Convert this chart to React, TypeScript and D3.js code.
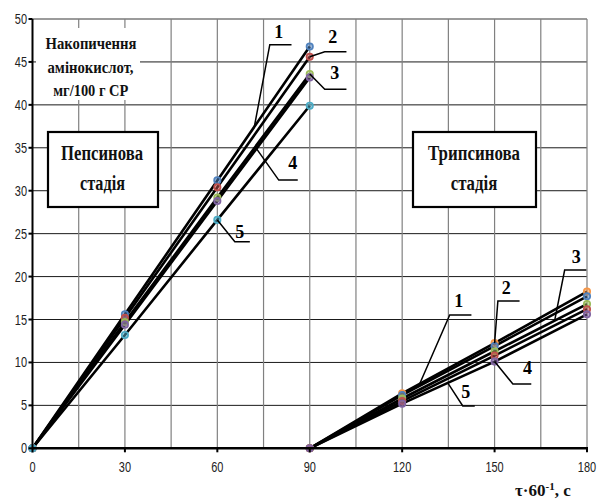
import React from "react";
import * as d3 from "d3";

// Sampling times, τ·60⁻¹ (s)
const pepsinTimes = [0, 30, 60, 90];
const trypsinTimes = [90, 120, 150, 180];

// Amino-acid accumulation, mg/100 g DM — pepsin stage (curves 1–5)
const pepsin1 = [0, 15.6, 31.2, 46.8];
const pepsin2 = [0, 15.2, 30.4, 45.6];
const pepsin3 = [0, 14.7, 29.2, 43.6];
const pepsin4 = [0, 14.4, 28.8, 43.2];
const pepsin5 = [0, 13.2, 26.6, 39.9];

// Trypsin stage (curves 1–5)
const trypsin1 = [0, 6.4, 12.25, 18.25];
const trypsin2 = [0, 6.2, 11.9, 17.7];
const trypsin3 = [0, 5.8, 11.3, 16.8];
const trypsin4 = [0, 5.5, 10.8, 16.2];
const trypsin5 = [0, 5.2, 10.1, 15.6];

const pepsinColors = ["#4F81BD", "#C0504D", "#9BBB59", "#8064A2", "#4BACC6"];
const trypsinColors = ["#F79646", "#4F81BD", "#9BBB59", "#C0504D", "#8064A2"];

const xTicks = [0, 30, 60, 90, 120, 150, 180];
const yTicks = [0, 5, 10, 15, 20, 25, 30, 35, 40, 45, 50];
const xGrid = [15, 30, 45, 60, 75, 90, 105, 120, 135, 150, 165, 180];

const W = 600;
const H = 500;
const x = d3.scaleLinear().domain([0, 180]).range([32.5, 587]);
const y = d3.scaleLinear().domain([0, 50]).range([448.3, 19]);

const serif = "'Liberation Serif', 'Times New Roman', serif";
const sans = "'Liberation Sans', Arial, sans-serif";

type Series = { times: number[]; values: number[]; color: string };

const series: Series[] = [
  ...[pepsin1, pepsin2, pepsin3, pepsin4, pepsin5].map((v, i) => ({
    times: pepsinTimes,
    values: v,
    color: pepsinColors[i],
  })),
  ...[trypsin1, trypsin2, trypsin3, trypsin4, trypsin5].map((v, i) => ({
    times: trypsinTimes,
    values: v,
    color: trypsinColors[i],
  })),
];

// value of a series at an arbitrary time (linear between samples)
function valueAt(s: Series, t: number) {
  return d3.scaleLinear().domain(s.times).range(s.values)(t);
}

// curve labels: anchored on a curve at time t, leader bent by pixel offsets
type Callout = {
  label: string;
  s: number;
  t: number;
  elbow: [number, number];
  end: number;
  text: [number, number];
};
const callouts: Callout[] = [
  { label: "1", s: 0, t: 72, elbow: [15.5, -82.2], end: 37.2, text: [24.5, -95.2] },
  { label: "2", s: 1, t: 90, elbow: [15, -5], end: 36.7, text: [23, -19.8] },
  { label: "3", s: 2, t: 90, elbow: [15, 15.3], end: 36.7, text: [25, -1.3] },
  { label: "4", s: 3, t: 72.7, elbow: [22.3, 31.4], end: 41.3, text: [36.3, 14.4] },
  { label: "5", s: 4, t: 60, elbow: [17.5, 21.8], end: 32.5, text: [22.5, 11.8] },
  { label: "1", s: 5, t: 125.7, elbow: [30, -68.8], end: 51.7, text: [39, -82.8] },
  { label: "2", s: 5, t: 150, elbow: [3.3, -42.1], end: 25, text: [11.7, -54.8] },
  { label: "3", s: 7, t: 169.5, elbow: [10, -50.5], end: 31.7, text: [21.7, -63.8] },
  { label: "4", s: 9, t: 150, elbow: [18.3, 22.4], end: 36.7, text: [33, 6.7] },
  { label: "5", s: 9, t: 134.8, elbow: [15, 23], end: 27, text: [18, 9] },
];

// condensed bold serif line of text
function Caption(props: { x: number; y: number; w: number; size: number; children: string }) {
  return (
    <text
      x={props.x - props.w / 2}
      y={props.y}
      textLength={props.w}
      lengthAdjust="spacingAndGlyphs"
      fontFamily={serif}
      fontWeight="bold"
      fontSize={props.size}
      fill="#111"
    >
      {props.children}
    </text>
  );
}

// narrow numeric tick label
function Tick(props: { x: number; y: number; anchor: "end" | "middle"; value: number }) {
  const s = String(props.value);
  const w = s.length * 6.1;
  const x0 = props.anchor === "end" ? props.x - w : props.x - w / 2;
  return (
    <text
      x={x0}
      y={props.y}
      textLength={w}
      lengthAdjust="spacingAndGlyphs"
      fontFamily={sans}
      fontSize={14}
      fill="#222"
    >
      {s}
    </text>
  );
}

export default function App() {
  const line = d3
    .line<[number, number]>()
    .x((d) => x(d[0]))
    .y((d) => y(d[1]));

  return (
    <svg width={W} height={H} style={{ display: "block", position: "absolute", left: 0, top: 0, background: "#fff" }}>
      <rect x={0} y={0} width={W} height={H} fill="#fff" />

      {/* grid */}
      {yTicks.slice(1).map((v) => (
        <line
          key={"hy" + v}
          x1={x(0)}
          x2={x(180)}
          y1={y(v)}
          y2={y(v)}
          stroke={v === 50 ? "#7a7a7a" : "#1a1a1a"}
          strokeWidth={v === 50 ? 1.5 : 1}
        />
      ))}
      {xGrid.map((v) => (
        <line key={"vx" + v} x1={x(v)} x2={x(v)} y1={y(0)} y2={y(50)} stroke="#808080" strokeWidth={1.2} />
      ))}

      {/* axis-title panel */}
      <rect x={36} y={28} width={104} height={72} fill="#fff" />
      <Caption x={91} y={49} w={91} size={16}>Накопичення</Caption>
      <Caption x={90.5} y={73} w={86} size={16}>амінокислот,</Caption>
      <Caption x={90.8} y={96} w={75} size={16}>мг/100 г СР</Caption>

      {/* curves */}
      {series.map((s, i) => (
        <path
          key={"l" + i}
          d={line(s.times.map((t, j) => [t, s.values[j]]) as [number, number][]) || ""}
          fill="none"
          stroke="#000"
          strokeWidth={2.6}
        />
      ))}
      {series.map((s, i) =>
        s.times.map((t, j) => (
          <circle
            key={"m" + i + "-" + j}
            cx={x(t)}
            cy={y(s.values[j])}
            r={3.2}
            fill={s.color}
            fillOpacity={0.55}
            stroke={s.color}
            strokeWidth={1.7}
          />
        ))
      )}

      {/* curve labels */}
      {callouts.map((c, i) => {
        const ax = x(c.t);
        const ay = y(valueAt(series[c.s], c.t));
        return (
          <g key={"c" + i}>
            <polyline
              points={`${ax},${ay} ${ax + c.elbow[0]},${ay + c.elbow[1]} ${ax + c.end},${ay + c.elbow[1]}`}
              fill="none"
              stroke="#000"
              strokeWidth={1.5}
            />
            <text
              x={ax + c.text[0]}
              y={ay + c.text[1] + 6}
              textAnchor="middle"
              fontFamily={serif}
              fontWeight="bold"
              fontSize={18}
            >
              {c.label}
            </text>
          </g>
        );
      })}

      {/* axes */}
      <line x1={x(0)} x2={x(0)} y1={y(0) + 1} y2={y(50)} stroke="#000" strokeWidth={2} />
      <line x1={x(0)} x2={x(180) + 1} y1={y(0)} y2={y(0)} stroke="#000" strokeWidth={2.6} />
      {yTicks.map((v) => (
        <g key={"yt" + v}>
          <line x1={x(0) - 4} x2={x(0)} y1={y(v)} y2={y(v)} stroke="#000" strokeWidth={2} />
          <Tick x={27} y={y(v) + 5} anchor="end" value={v} />
        </g>
      ))}
      {xTicks.map((v) => (
        <g key={"xt" + v}>
          <line x1={x(v)} x2={x(v)} y1={y(0)} y2={y(0) + 4} stroke="#000" strokeWidth={2} />
          <Tick x={Math.min(x(v), 588)} y={472} anchor="middle" value={v} />
        </g>
      ))}

      {/* stage boxes */}
      <rect x={48} y={132} width={110} height={75} fill="#fff" stroke="#000" strokeWidth={2.2} />
      <Caption x={102} y={160} w={82} size={20}>Пепсинова</Caption>
      <Caption x={102.5} y={190} w={45} size={20}>стадія</Caption>
      <rect x={413} y={132} width={123} height={75} fill="#fff" stroke="#000" strokeWidth={2.2} />
      <Caption x={474} y={160} w={92} size={20}>Трипсинова</Caption>
      <Caption x={474} y={190} w={46.6} size={20}>стадія</Caption>

      {/* x-axis title */}
      <text x={515} y={496} fontFamily={serif} fontWeight="bold" fontSize={17} fill="#111">
        τ·60
        <tspan dy={-6} fontSize={11}>-1</tspan>
        <tspan dy={6}>, с</tspan>
      </text>
    </svg>
  );
}
